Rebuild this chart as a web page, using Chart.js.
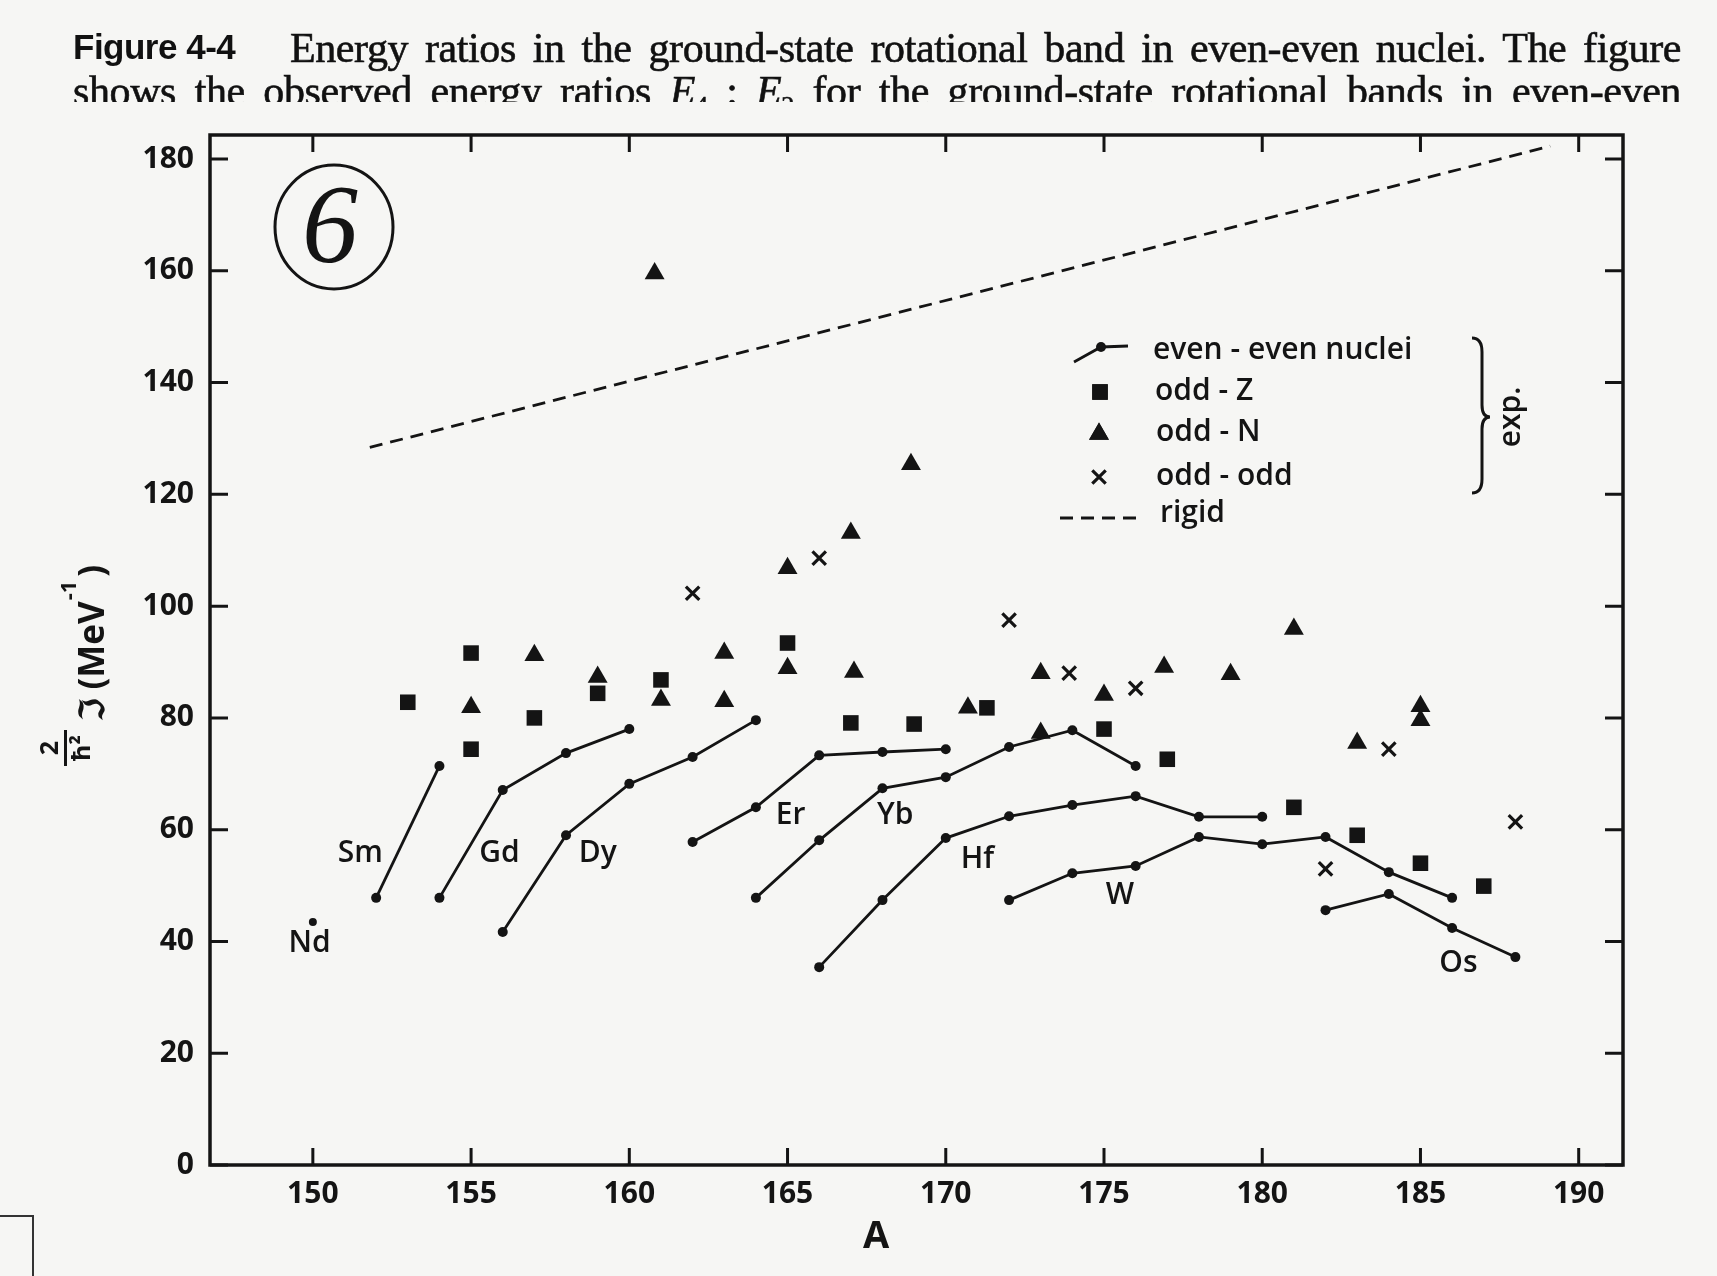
<!DOCTYPE html>
<html><head><meta charset="utf-8">
<script src="https://cdn.jsdelivr.net/npm/chart.js@4/dist/chart.umd.min.js"></script>
<style>
html,body{margin:0;padding:0;background:#f6f6f4;}
#wrap{position:relative;width:1717px;height:1276px;overflow:hidden;background:#f6f6f4;}
#c{position:absolute;left:0;top:0;}
.fig{position:absolute;left:73px;top:29px;font-family:"Liberation Sans",Arial,sans-serif;font-weight:bold;font-size:35px;line-height:35px;color:#111;white-space:nowrap;letter-spacing:-0.5px;}
.cap{position:absolute;left:290px;width:1391px;font-family:"Liberation Serif","Times New Roman",serif;font-size:42px;line-height:42px;color:#111;text-align:justify;text-align-last:justify;-webkit-text-stroke:0.6px #111;letter-spacing:-0.4px;}
#l1{top:27px;}
#clip2{position:absolute;left:0;top:0;width:1717px;height:102px;overflow:hidden;}
#l2{left:73px;width:1608px;top:70px;}
#box{position:absolute;left:0;top:1215px;width:32px;height:70px;border-top:2px solid #333;border-right:2px solid #333;}
</style>
</head><body>
<div id="wrap">
<canvas id="c" width="1717" height="1276"></canvas>
<div class="fig">Figure 4-4</div>
<div class="cap" id="l1">Energy ratios in the ground-state rotational band in even-even nuclei. The figure</div>
<div id="clip2"><div class="cap" id="l2">shows the observed energy ratios <i>E</i><sub style="font-size:26px">4</sub> : <i>E</i><sub style="font-size:26px">2</sub> for the ground-state rotational bands in even-even</div></div>
<div id="box"></div>
</div>
<script>
// ---------- data ----------
const xTicks = [150,155,160,165,170,175,180,185,190];
const yTicks = [0,20,40,60,80,100,120,140,160,180];

// even-even nuclei (A, 2J/hbar^2)
const ndA = [150],                     ndY = [43.5];
const smA = [152,154],                 smY = [47.8,71.4];
const gdA = [154,156,158,160],         gdY = [47.8,67.1,73.7,78.0];
const dyA = [156,158,160,162,164],     dyY = [41.7,59.0,68.2,73.0,79.6];
const erA = [162,164,166,168,170],     erY = [57.8,64.0,73.3,73.9,74.4];
const ybA = [164,166,168,170,172,174,176], ybY = [47.8,58.1,67.4,69.4,74.8,77.8,71.4];
const hfA = [166,168,170,172,174,176,178,180], hfY = [35.4,47.4,58.5,62.4,64.4,66.0,62.3,62.3];
const wA  = [172,174,176,178,180,182,184,186], wY  = [47.4,52.2,53.5,58.7,57.4,58.7,52.4,47.8];
const osA = [182,184,186,188],         osY = [45.6,48.5,42.4,37.2];

// odd-Z
const oddZA = [153,155,155,157,159,161,165,167,169,171.3,175,177,181,183,185,187];
const oddZY = [82.8,91.6,74.4,80.0,84.4,86.8,93.4,79.1,78.9,81.8,78.0,72.6,64.0,59.0,54.0,49.9];
// odd-N
const oddNA = [155,157,159,160.8,161,163,163,165,165,167,167.1,168.9,170.7,173,173,175,176.9,179,181,183,185,185];
const oddNY = [81.9,91.2,87.3,159.5,83.2,91.6,83.0,106.8,88.9,113.1,88.2,125.4,81.8,88.0,77.3,84.1,89.1,87.8,95.9,75.5,82.1,79.6];
// odd-odd
const oddOA = [162,166,172,173.9,176,182,184,188];
const oddOY = [102.3,108.6,97.5,88.0,85.3,53.0,74.4,61.4];
// rigid rotor
const rigidA = [151.8,189.1];
const rigidY = [128.4,182.3];

// element labels (anchor in data units)
const elemNames = ['Nd','Sm','Gd','Dy','Er','Yb','Hf','W','Os'];
const elemA     = [149.9,151.5,155.9,159.0,165.1,168.4,171.0,175.5,186.2];
const elemY     = [39.6,55.7,55.7,55.7,62.5,62.5,54.6,48.2,36.0];

// ---------- chart ----------
const INK = '#141414';
const FONT = '"Open Sans","DejaVu Sans",sans-serif';
const pts = (a,y)=>a.map((v,i)=>({x:v,y:y[i]}));
const eeSet = (a,y)=>({data:pts(a,y),showLine:true,borderColor:INK,borderWidth:2.8,pointRadius:5,
  pointBackgroundColor:INK,pointBorderColor:INK,pointBorderWidth:0,pointStyle:'circle'});

const datasets = [
  {data:pts(rigidA,rigidY),showLine:true,borderColor:INK,borderWidth:2.8,borderDash:[13,8],pointRadius:0},
  Object.assign(eeSet(ndA,ndY),{pointRadius:4}),
  eeSet(smA,smY), eeSet(gdA,gdY), eeSet(dyA,dyY), eeSet(erA,erY),
  eeSet(ybA,ybY), eeSet(hfA,hfY), eeSet(wA,wY), eeSet(osA,osY),
  {data:pts(oddZA,oddZY),pointStyle:'rect',pointRadius:11,pointBackgroundColor:INK,pointBorderColor:INK,pointBorderWidth:0,showLine:false},
  {data:pts(oddNA,oddNY),pointStyle:'triangle',pointRadius:11.5,pointBackgroundColor:INK,pointBorderColor:INK,pointBorderWidth:0,showLine:false},
  {data:pts(oddOA,oddOY),pointStyle:'crossRot',pointRadius:9.5,pointBorderColor:INK,pointBorderWidth:3.2,showLine:false}
];

const decor = {
  id:'decor',
  afterDatasetsDraw(chart){
    const ctx = chart.ctx, ca = chart.chartArea, xs = chart.scales.x, ys = chart.scales.y;
    ctx.save();
    ctx.strokeStyle = INK; ctx.fillStyle = INK;
    // frame
    ctx.lineWidth = 3.5;
    ctx.strokeRect(ca.left, ca.top, ca.right-ca.left, ca.bottom-ca.top);
    // inward ticks
    ctx.lineWidth = 3;
    ctx.beginPath();
    xTicks.forEach(v=>{const p = xs.getPixelForValue(v);
      ctx.moveTo(p, ca.bottom); ctx.lineTo(p, ca.bottom-17);
      ctx.moveTo(p, ca.top); ctx.lineTo(p, ca.top+17);});
    yTicks.forEach(v=>{const p = ys.getPixelForValue(v);
      ctx.moveTo(ca.left, p); ctx.lineTo(ca.left+18, p);
      ctx.moveTo(ca.right, p); ctx.lineTo(ca.right-18, p);});
    ctx.stroke();
    // element labels
    ctx.font = '600 30px ' + FONT;
    ctx.textAlign = 'center'; ctx.textBaseline = 'middle';
    elemNames.forEach((n,i)=>ctx.fillText(n, xs.getPixelForValue(elemA[i]), ys.getPixelForValue(elemY[i])));

    // legend
    const L = ca.left, T = ca.top;
    ctx.lineWidth = 2.8;
    ctx.beginPath(); ctx.moveTo(L+864,T+227); ctx.lineTo(L+891,T+212); ctx.lineTo(L+918,T+211); ctx.stroke();
    ctx.beginPath(); ctx.arc(L+891,T+212,5,0,Math.PI*2); ctx.fill();
    Chart.helpers.drawPoint(ctx,{pointStyle:'rect',radius:11,borderWidth:0},L+890,T+257);
    ctx.fill();
    Chart.helpers.drawPoint(ctx,{pointStyle:'triangle',radius:11.5,borderWidth:0},L+889,T+299);
    ctx.fill();
    ctx.lineWidth = 3.2;
    Chart.helpers.drawPoint(ctx,{pointStyle:'crossRot',radius:9.5,borderWidth:3.2},L+889,T+342);
    ctx.lineWidth = 2.8; ctx.setLineDash([13,8]);
    ctx.beginPath(); ctx.moveTo(L+850,T+383); ctx.lineTo(L+932,T+383); ctx.stroke();
    ctx.setLineDash([]);
    ctx.font = '600 30px ' + FONT; ctx.textAlign='left'; ctx.textBaseline='middle';
    ctx.fillText('even - even nuclei', L+943, T+215);
    ctx.fillText('odd - Z', L+945, T+256);
    ctx.fillText('odd - N', L+946, T+297);
    ctx.fillText('odd - odd', L+946, T+341);
    ctx.fillText('rigid', L+950, T+378);
    // brace
    ctx.lineWidth = 3;
    const bx = L+1262, by0 = T+203, by1 = T+358, bm = T+282;
    ctx.beginPath();
    ctx.moveTo(bx, by0);
    ctx.quadraticCurveTo(bx+10, by0, bx+10, by0+14);
    ctx.lineTo(bx+10, bm-12);
    ctx.quadraticCurveTo(bx+10, bm, bx+18, bm);
    ctx.quadraticCurveTo(bx+10, bm, bx+10, bm+12);
    ctx.lineTo(bx+10, by1-14);
    ctx.quadraticCurveTo(bx+10, by1, bx, by1);
    ctx.stroke();
    ctx.save();
    ctx.translate(L+1301, T+282); ctx.rotate(-Math.PI/2);
    ctx.textAlign='center'; ctx.textBaseline='middle';
    ctx.fillText('exp.', 0, 0);
    ctx.restore();

    // circled 6 annotation
    ctx.lineWidth = 3;
    ctx.beginPath(); ctx.ellipse(334,227,59,62,0,0,Math.PI*2); ctx.stroke();
    ctx.font = 'italic 112px "Liberation Serif",serif';
    ctx.textAlign='center'; ctx.textBaseline='alphabetic';
    ctx.fillText('6', 330, 262);

    // axis titles
    ctx.font = 'bold 38px ' + FONT; ctx.textAlign='center'; ctx.textBaseline='middle';
    ctx.fillText('A', 876, 1237);
    ctx.save();
    ctx.translate(104, 0); ctx.rotate(-Math.PI/2);
    ctx.textBaseline='alphabetic';
    ctx.font = '700 25px ' + FONT; ctx.textAlign='center';
    ctx.fillText('2', -748, -46);
    ctx.fillRect(-766, -40, 36, 3);
    ctx.fillText('ħ²', -748, -14);
    ctx.textAlign='left';
    let x = -722;
    ctx.font = '700 35px ' + FONT;
    ctx.fillText('ℑ', x, 0); x += ctx.measureText('ℑ').width + 8;
    ctx.fillText('(MeV', x, 0); x += ctx.measureText('(MeV').width + 1;
    ctx.font = '700 22px ' + FONT;
    ctx.fillText('-1', x, -28); x += ctx.measureText('-1').width + 4;
    ctx.font = '700 35px ' + FONT;
    ctx.fillText(')', x, 0);
    ctx.restore();
    ctx.restore();
  }
};

new Chart(document.getElementById('c'), {
  type:'scatter',
  data:{datasets},
  options:{
    responsive:false, animation:false, events:[],
    layout:{padding:{top:135,right:94,left:0,bottom:0}},
    plugins:{legend:{display:false},tooltip:{enabled:false}},
    scales:{
      x:{type:'linear',min:146.75,max:191.4,
        afterBuildTicks:s=>{s.ticks = xTicks.map(v=>({value:v}));},
        ticks:{font:{family:FONT,size:30,weight:'700'},color:INK,padding:11,maxRotation:0,autoSkip:false},
        grid:{display:false,drawTicks:false},border:{display:false},
        afterFit:s=>{s.height = 111;}},
      y:{type:'linear',min:0,max:184.3,
        afterBuildTicks:s=>{s.ticks = yTicks.map(v=>({value:v}));},
        ticks:{font:{family:FONT,size:30,weight:'700'},color:INK,padding:16,autoSkip:false},
        grid:{display:false,drawTicks:false},border:{display:false},
        afterFit:s=>{s.width = 210;}}
    }
  },
  plugins:[decor]
});
</script>
</body></html>
